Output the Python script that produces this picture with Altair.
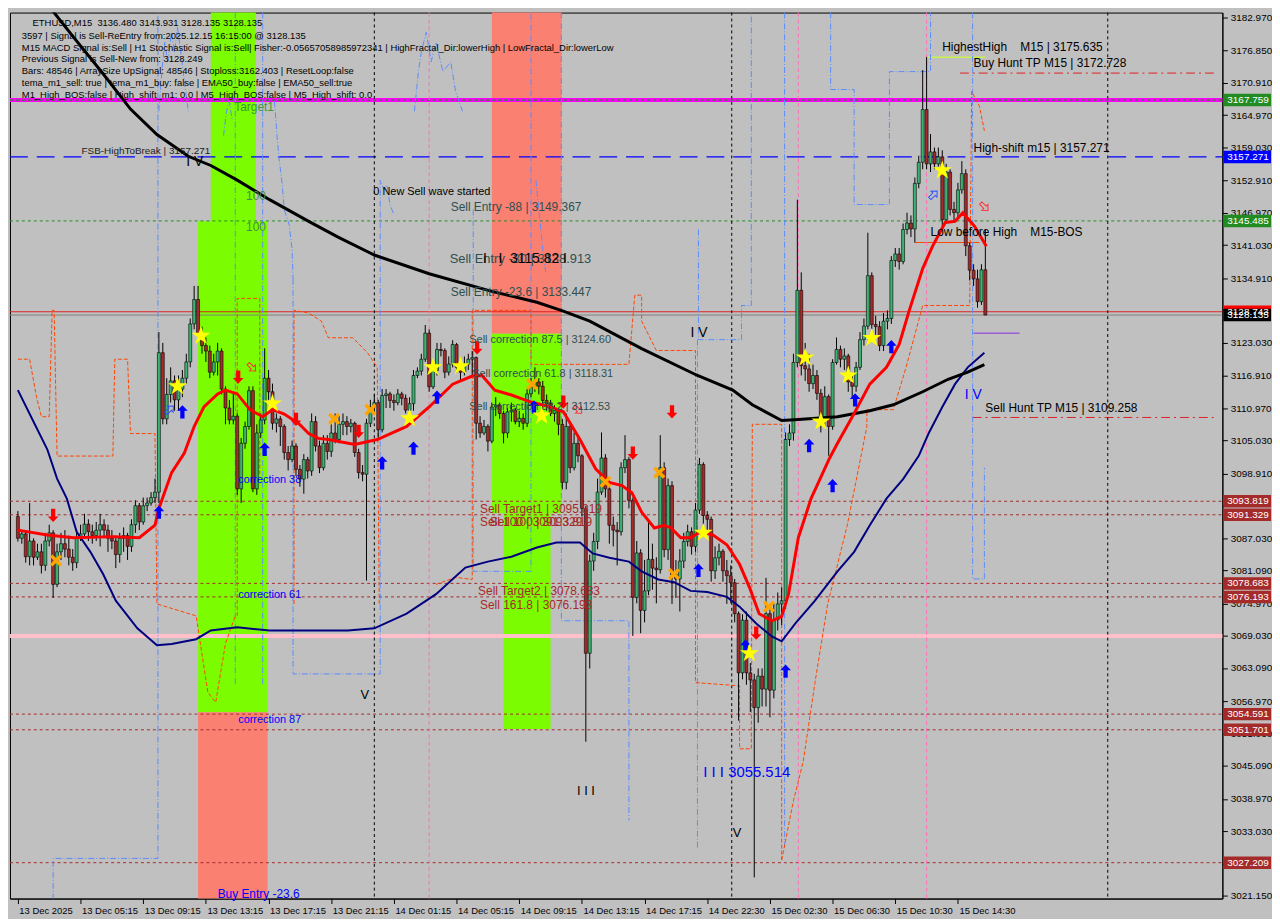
import altair as alt
import pandas as pd

W, H = 1222, 893
XD = [-0.75, 306.25]
YD = [3020.6, 3183.88]
xsc = alt.Scale(domain=XD, nice=False, zero=False)
ysc = alt.Scale(domain=YD, nice=False, zero=False)
FONT = "Liberation Sans"
NB = "\u00a0"

# ---------------- candles (M15) ----------------
open0 = 3091.0
close = [
3087.0,3087.8,3083.6,3086.5,3083.5,3084.5,3082.0,3086.5,3088.0,3078.5,
3084.5,3086.0,3085.0,3083.5,3082.5,3087.0,3087.8,3089.6,3088.2,3087.5,
3088.5,3089.5,3088.5,3087.0,3086.5,3084.0,3087.0,3087.5,3085.5,3089.5,
3093.0,3090.0,3093.0,3093.5,3094.5,3095.5,3121.2,3109.0,3113.5,3116.0,
3112.5,3114.5,3116.5,3119.5,3126.5,3131.0,3124.5,3122.5,3121.5,3117.6,
3119.5,3121.5,3114.5,3111.0,3108.8,3109.5,3096.1,3104.5,3107.6,3114.2,
3096.1,3106.4,3108.8,3116.5,3114.0,3108.2,3109.0,3107.6,3102.8,3101.5,
3104.0,3099.7,3097.9,3101.5,3099.4,3108.5,3104.0,3100.0,3104.5,3103.0,
3106.4,3105.2,3108.0,3108.5,3107.6,3108.2,3102.8,3099.1,3098.8,3108.2,
3111.2,3112.0,3107.0,3113.3,3113.6,3112.4,3112.0,3113.6,3112.8,3110.6,
3111.8,3117.0,3117.8,3120.0,3124.8,3114.9,3117.9,3121.8,3121.6,3117.6,
3119.1,3122.7,3118.5,3117.6,3119.1,3120.0,3120.3,3108.2,3106.4,3107.6,
3104.9,3111.2,3111.5,3110.0,3106.4,3110.3,3110.6,3108.5,3109.1,3108.2,
3113.6,3114.9,3115.8,3115.0,3112.4,3111.8,3110.0,3110.6,3108.0,3097.3,
3107.6,3100.0,3104.5,3102.2,3092.5,3065.8,3082.8,3086.4,3095.5,3101.8,
3096.1,3089.4,3088.5,3088.2,3100.0,3101.5,3094.0,3076.1,3084.3,3073.7,
3077.3,3083.1,3081.5,3081.2,3100.0,3084.9,3096.7,3080.3,3079.5,3082.8,
3086.4,3088.2,3085.5,3092.2,3100.6,3091.2,3090.5,3081.0,3083.4,3084.6,
3081.0,3080.1,3078.8,3073.1,3062.2,3071.9,3062.2,3060.9,3055.8,3061.6,
3059.2,3073.1,3059.0,3072.0,3074.9,3075.5,3105.2,3106.4,3119.4,3132.7,
3118.8,3118.2,3115.5,3117.0,3113.7,3108.8,3113.1,3107.6,3119.4,3121.8,
3120.0,3120.6,3115.8,3115.0,3118.5,3123.6,3126.1,3135.4,3126.4,3126.0,
3122.5,3127.0,3127.5,3138.2,3139.4,3138.0,3143.9,3145.1,3144.0,3152.4,
3156.3,3166.0,3156.0,3158.2,3156.0,3157.3,3145.7,3154.5,3147.6,3147.0,
3151.2,3154.2,3140.9,3136.4,3134.8,3130.6,3136.48,3128.135]
high = [
3092.0,3088.3,3088.5,3093.5,3087.0,3086.0,3086.0,3088.0,3089.5,3088.5,
3086.0,3088.0,3088.5,3087.5,3085.0,3088.5,3089.5,3091.5,3090.5,3089.5,
3090.0,3091.5,3090.5,3089.5,3088.5,3087.5,3088.0,3089.0,3088.0,3090.5,
3094.0,3093.5,3094.5,3094.5,3095.5,3098.0,3125.0,3123.0,3116.5,3118.5,
3117.0,3117.0,3118.0,3121.0,3127.5,3133.5,3133.5,3126.0,3124.0,3122.5,
3121.0,3123.0,3122.0,3115.0,3112.5,3114.0,3110.0,3105.5,3108.5,3115.0,
3115.0,3108.0,3110.0,3122.0,3118.0,3115.5,3110.0,3109.5,3108.0,3104.0,
3105.0,3104.5,3100.5,3102.5,3102.0,3110.0,3109.5,3105.0,3106.0,3106.0,
3108.0,3110.0,3109.5,3110.0,3109.5,3109.0,3108.5,3103.5,3100.5,3109.0,
3112.5,3113.5,3112.5,3114.5,3114.5,3114.0,3113.5,3114.5,3114.0,3113.5,
3113.0,3118.0,3118.5,3121.0,3126.3,3125.5,3119.0,3123.0,3123.0,3122.0,
3120.5,3123.5,3123.0,3119.0,3120.5,3121.0,3121.5,3120.5,3109.5,3108.8,
3108.0,3112.0,3113.0,3112.0,3110.5,3111.0,3112.0,3111.0,3110.5,3110.0,
3114.5,3116.5,3118.5,3116.5,3116.0,3113.5,3112.5,3111.5,3111.0,3109.0,
3110.0,3108.0,3106.5,3105.5,3102.5,3093.0,3084.0,3088.0,3098.0,3106.5,
3102.5,3097.0,3091.0,3090.0,3101.0,3106.0,3102.0,3094.5,3086.5,3085.0,
3083.0,3090.0,3086.0,3083.5,3106.0,3101.0,3098.0,3097.5,3083.0,3085.0,
3088.0,3089.5,3089.0,3093.5,3101.8,3101.0,3092.0,3091.0,3085.5,3086.0,
3085.0,3083.0,3082.0,3079.5,3073.5,3073.0,3073.5,3064.0,3062.0,3063.0,
3063.0,3079.7,3074.0,3075.0,3077.0,3078.0,3106.5,3108.0,3121.0,3149.4,
3136.0,3123.0,3121.0,3119.0,3118.0,3114.5,3115.0,3113.5,3120.0,3124.0,
3122.5,3122.0,3121.0,3117.0,3119.5,3125.0,3127.5,3143.3,3136.0,3128.0,
3127.0,3128.5,3129.0,3139.0,3140.5,3140.5,3145.0,3147.0,3146.5,3153.5,
3157.5,3173.3,3175.7,3161.5,3159.0,3159.0,3158.5,3156.0,3155.0,3149.0,
3152.5,3156.5,3155.0,3141.5,3137.5,3136.5,3137.5,3143.931]
low = [
3086.4,3086.0,3082.5,3082.0,3082.0,3083.0,3080.5,3081.0,3085.5,3076.0,
3078.0,3083.0,3083.5,3082.0,3081.0,3081.5,3086.5,3087.0,3086.5,3086.0,
3086.5,3085.5,3087.0,3084.5,3085.0,3081.5,3082.5,3084.5,3083.0,3084.5,
3088.0,3088.5,3089.5,3092.0,3093.0,3093.5,3093.5,3108.0,3108.0,3112.0,
3110.5,3110.5,3113.0,3115.5,3118.5,3125.5,3123.5,3121.0,3119.5,3116.5,
3117.0,3117.0,3113.5,3108.0,3108.0,3108.0,3095.0,3093.5,3103.5,3107.0,
3095.5,3095.0,3105.5,3108.0,3112.5,3107.0,3106.5,3104.0,3101.5,3099.5,
3101.0,3098.5,3096.5,3095.2,3098.0,3098.5,3103.0,3099.0,3099.5,3101.5,
3102.0,3104.5,3104.5,3106.0,3106.0,3106.5,3102.0,3098.0,3097.5,3079.2,
3107.5,3110.0,3105.5,3106.5,3111.0,3111.0,3110.5,3111.5,3111.5,3110.0,
3108.0,3110.5,3116.5,3117.0,3119.5,3114.0,3114.5,3117.0,3120.5,3116.5,
3117.0,3118.5,3117.5,3116.0,3117.0,3118.0,3117.0,3105.2,3105.5,3106.0,
3103.0,3104.5,3109.5,3109.0,3104.5,3105.5,3108.5,3108.0,3107.5,3107.0,
3107.5,3113.0,3114.0,3113.5,3111.0,3110.5,3109.5,3108.5,3106.0,3096.0,
3096.0,3099.0,3099.5,3101.0,3091.0,3049.5,3063.0,3081.0,3085.0,3095.0,
3094.5,3086.0,3085.5,3082.0,3087.5,3099.0,3092.5,3069.0,3075.0,3069.5,
3071.5,3076.5,3077.5,3075.0,3080.5,3083.5,3083.0,3074.9,3076.0,3073.5,
3081.5,3085.5,3084.0,3084.5,3091.5,3089.5,3088.5,3079.0,3079.5,3082.0,
3079.0,3074.9,3075.0,3071.5,3053.4,3061.0,3060.0,3055.0,3024.5,3053.0,
3056.0,3056.0,3054.0,3057.5,3070.0,3071.0,3074.0,3104.0,3105.0,3118.5,
3117.0,3116.0,3114.0,3114.5,3112.5,3106.5,3107.5,3102.2,3107.0,3119.0,
3118.5,3118.0,3114.0,3113.0,3114.0,3118.0,3122.5,3125.5,3125.5,3124.5,
3121.5,3121.5,3125.5,3126.5,3137.0,3136.5,3137.5,3143.0,3142.5,3141.5,
3151.5,3155.0,3155.0,3154.5,3155.0,3155.5,3144.5,3145.0,3146.5,3145.5,
3146.0,3150.5,3139.0,3134.5,3133.5,3129.5,3130.0,3128.135]

# ---------------- indicator lines (bar, price) ----------------
ma_black_bar = [8.0,14.25,21.75,28.75,35.5,43.5,49.25,56,64.25,74.25,81.75,91,105,121,132.5,139.25,146,159.25,173.5,182.5,187.5,195,199.25,209.25,217.5,223.5,231,237.5,242.5,246.75]
ma_black_val = [3185.0,3179.3,3172.6,3166.1,3161.4,3157.4,3155.7,3153.0,3149.4,3145.4,3142.5,3139.2,3135.75,3132.5,3130.5,3128.85,3127.0,3121.95,3117.0,3114.3,3111.6,3108.7,3108.9,3109.4,3110.5,3111.6,3114.0,3116.3,3117.6,3119.0]
ma_red_bar = [0,7.5,14.25,24.25,31,35,36,39.25,42.5,45,47.5,51,53,56,59.25,62.5,65,68,71.75,74.25,76.75,79.25,86,91.75,99.25,105,111,116,118.5,121.75,126,131,136,139.25,143.5,147.5,151,154.25,156.75,159.25,162.5,165,166.75,169.25,171.75,174.25,177.5,181,184.25,186.75,189.25,192.5,195,196.75,199.25,202.5,207.25,209.25,213.5,217.5,221.75,225,227.5,231,233.5,236.75,239.25,241.25,244.25,247.25]
ma_red_val = [3088.5,3087.6,3087.1,3087.3,3087.1,3089.4,3092.5,3099.1,3102.7,3107.6,3111.2,3113.6,3114.3,3113.6,3110.7,3109.4,3110.7,3109.9,3108.1,3106.3,3105.4,3105.2,3104.3,3105.2,3107.6,3111.2,3115.4,3116.9,3117.0,3114.3,3113.4,3112.1,3111.2,3110.3,3105.2,3099.8,3097.3,3096.7,3095.4,3091.8,3088.9,3089.4,3088.9,3087.1,3087.1,3088.2,3087.6,3085.8,3082.2,3078.0,3073.1,3071.8,3072.6,3076.7,3087.1,3094.3,3101.8,3104.5,3110.0,3115.4,3118.5,3122.7,3128.8,3136.7,3140.8,3145.2,3145.4,3147.0,3144.5,3140.8]
ma_navy_bar = [0,4.25,7.5,10,12.5,15,18.5,21.75,25,30.5,35.5,39.25,45.5,49.25,56,64.25,74.25,84.25,91,99.25,106.75,114.25,120,126,132.5,137.5,143.5,146.75,151,156,159.25,163.5,167.5,171.75,176,181,184.25,188.5,192.5,195,198.5,203.5,209.25,213.5,217.5,221.75,226,230,232.5,236,239.25,242.5,246.75]
ma_navy_val = [3114.3,3108.1,3103.4,3098.0,3094.3,3088.2,3084.5,3080.4,3075.5,3070.4,3067.3,3067.5,3068.4,3070.0,3070.6,3070.0,3070.0,3070.0,3070.4,3073.1,3076.7,3081.6,3082.7,3083.6,3085.3,3086.2,3086.2,3084.2,3083.4,3082.7,3080.9,3079.4,3078.9,3077.3,3077.1,3076.2,3074.4,3071.3,3068.9,3068.0,3071.3,3075.5,3080.9,3084.5,3089.4,3094.3,3097.9,3102.2,3106.3,3111.2,3115.4,3118.5,3121.2]

# orange-red dashed channel (segments)
orange_seg = [
 [(0,3120.0),(3,3120.0),(4.75,3113.05),(6,3109.4),(8,3109.4),(8.75,3129.0),(9.25,3129.0),(10,3102.15),(24.25,3102.15),(24.75,3120.0),(28,3120.0),(28.75,3106.3),(35,3106.3),(35.5,3074.9),(45.5,3072.7),(48.5,3058.6),(50.5,3056.75),(53,3067.6),(55.5,3072.7)],
 [(56,3072.7),(56,3131.2),(61.75,3131.2),(61.75,3098.5)],
 [(70.5,3074.9),(70.5,3129.0),(74.25,3128.5),(77.5,3127.0),(79.25,3123.95),(85.5,3123.95),(89.25,3121.2),(91.75,3118.5),(92.25,3074.9)],
 [(106.75,3078.5),(111.75,3079.8),(116,3079.4),(116,3129.0),(131,3129.0),(131,3119.05),(156,3119.05),(157.5,3131.8),(159.25,3131.8),(159.25,3127.0),(163,3121.6),(173,3121.6),(173,3060.4),(184.25,3059.8),(184.25,3048.2),(187.25,3048.2),(187.5,3108.0),(195,3108.0),(195,3027.7)],
 [(195,3027.7),(198,3038.6),(200.5,3045.85),(203.5,3060.4),(206.75,3074.9),(211.75,3089.4),(216.75,3107.6),(216.75,3110.7),(223.5,3110.7),(226.75,3118.5),(231,3129.9),(243,3129.9),(243.5,3169.35),(245.5,3166.6),(246.75,3162.1)],
]
# light-blue dash-dot channel (segments)
blue_seg = [
 [(9,3020.4),(9,3028.0),(35.75,3028.0),(35.75,3183.9)],
 [(36,3165.7),(36.75,3173.0),(37.5,3178.4),(38.25,3174.8),(39.25,3180.25),(40,3176.6),(40.75,3181.2),(41.75,3175.7),(42.5,3171.2),(43.5,3165.7)],
 [(55.5,3183.9),(55.5,3060.0)],
 [(52.5,3161.2),(53.25,3165.7),(54,3167.5),(54.75,3163.9)],
 [(62.5,3183.9),(62.5,3060.0)],
 [(65.5,3167.5),(66.25,3160.3),(66.75,3156.6),(67.5,3152.1),(68,3147.6),(69.25,3144.8),(70,3140.3),(70.25,3134.8)],
 [(70.25,3134.8),(70.25,3062.0),(92.5,3062.0),(92.5,3153.0),(93.5,3151.2),(94.25,3152.1),(95,3148.5),(96,3146.6)],
 [(101.25,3165.7),(102.25,3173.0),(103,3176.6),(104.25,3180.25),(105.5,3174.8),(106.75,3178.4),(108.5,3173.0),(110.5,3174.8),(111.75,3169.35),(113.5,3165.7)],
 [(116.25,3147.6),(116.25,3080.9),(131,3080.9),(131,3183.9)],
 [(132.25,3153.0),(133,3147.6),(133.75,3142.1),(134.25,3138.5),(134.75,3136.1)],
 [(138.75,3183.9),(138.75,3071.8),(156,3071.8),(156,3035.0)],
 [(173.75,3143.9),(173.75,3123.6),(184.75,3123.6),(184.75,3129.9),(187.25,3129.9),(187.25,3183.9)],
 [(173.5,3123.6),(173.5,3030.0)],
 [(195.75,3183.9),(195.75,3030.0)],
 [(207.5,3183.9),(207.5,3169.7),(213.5,3169.7),(213.5,3148.5),(222.5,3148.5),(222.5,3173.0),(233,3173.0),(233,3183.9)],
 [(243.75,3183.9),(243.75,3079.5),(246.75,3079.5),(246.75,3100.0)],
]

# ---------------- levels ----------------
lvl_darkred = [3093.819, 3091.329, 3078.683, 3076.193, 3054.591, 3051.701, 3027.209]
lvl_magenta = 3167.759
lvl_fsb = 3157.271
lvl_green = 3145.485
lvl_red = 3128.743
lvl_last = 3128.135
lvl_pink = 3069.0
buy_hunt_tp = 3172.728
sell_hunt_tp = 3109.258
highest_high = 3175.635
low_before_high = 3141.5
base_line = 3124.8

# zones: (bar_from, bar_to, price_lo, price_hi, colour)
zones = [
 (49.25, 60.75, 3054.93, 3183.9, "#7CFC00"),
 (46.0, 63.75, 3054.93, 3145.4, "#7CFC00"),
 (46.0, 63.75, 3020.6, 3054.93, "#FA8072"),
 (121.0, 138.75, 3124.67, 3183.9, "#FA8072"),
 (121.0, 138.75, 3091.62, 3124.67, "#7CFC00"),
 (124.0, 136.0, 3051.84, 3091.62, "#7CFC00"),
]
sep_black = [91.0, 182.25, 278.25]
sep_pink = [105.0, 199.25, 232.0]

# markers
stars = [(46.75,3124.3),(40.75,3115.0),(65,3111.8),(106,3118.5),(113,3118.7),(100,3109.1),(133.75,3109.6),(175,3088.0),(186.75,3065.8),(201,3120.3),(205,3108.5),(212,3117.0),(218,3123.9),(236,3154.8)]
xmarks = [(9.75,3082.9),(80.75,3109.0),(90,3110.7),(131.25,3115.4),(150,3097.4),(163.75,3099.1),(167.5,3080.4),(191.75,3074.4)]
down_arrows = [(9,3091.2),(56.25,3116.7),(71,3108.9),(87,3106.7),(117.25,3122.1),(139.25,3112.1),(157,3102.7),(167,3110.3),(188.5,3069.5)]
up_arrows = [(36,3091.8),(42,3110.3),(63,3103.4),(93,3100.9),(101,3103.6),(107,3113.0),(131.75,3111.2),(173.75,3081.1),(185.75,3067.1),(196,3062.5),(202,3104.1),(208,3096.7),(213.75,3112.5),(223,3122.3)]
hollow = [(38.75,3110.7,45,"#3050FF"),(59.75,3118.5,135,"#FF3030"),(143,3110.7,135,"#FF3030"),(233.75,3150.3,45,"#3050FF"),(246.75,3148.1,135,"#FF3030")]

# annotations: (bar, price, text, colour, size)
notes = [
 (55.25,3166.4,"Target1","#3A9A3A",12),
 (58.25,3150.1,"100","#4A8A4A",12),
 (58.25,3144.3,"100","#4A8A4A",12),
 (16.25,3158.45,"FSB-HighToBreak | 3157.271","#202020",10),
 (90.75,3150.8,"0 New Sell wave started","#000000",11),
 (110.5,3148.1,"Sell Entry -88 | 3149.367","#2F4F4F",12),
 (110.25,3138.5,"Sell Entry -30 | 3138.913","#2F4F4F",13),
 (118.75,3138.5,"I" + NB*3 + "I" + NB*2 + "3115.82 I","#000000",14),
 (110.5,3132.3,"Sell Entry -23.6 | 3133.447","#2F4F4F",12),
 (115.25,3123.6,"Sell correction 87.5 | 3124.60","#2F4F4F",11),
 (116.0,3117.2,"Sell correction 61.8 | 3118.31","#2F4F4F",11),
 (115.25,3111.2,"Sell correction 38.2 | 3112.53","#2F4F4F",11),
 (118.0,3092.3,"Sell Target1 | 3095.819","#A52A2A",12),
 (118.0,3090.0,"Sell 100 | 3091.329","#A52A2A",12),
 (120.5,3090.0,"Sell 100 | 3093.819","#A52A2A",12),
 (117.5,3077.3,"Sell Target2 | 3078.683","#A52A2A",12),
 (118.0,3074.7,"Sell 161.8 | 3076.193","#A52A2A",12),
 (56.25,3097.8,"correction 38","#0000FF",11),
 (56.25,3076.5,"correction 61","#0000FF",11),
 (56.25,3053.5,"correction 87","#0000FF",11),
 (51.0,3021.4,"Buy Entry -23.6","#0000FF",12),
 (87.5,3058.2,"V","#000000",13),
 (142.75,3040.4,"I I I","#000000",13),
 (175.0,3044.0,"I I I 3055.514","#0000FF",15),
 (182.5,3032.6,"V","#000000",13),
 (171.75,3124.9,"I V","#000000",14),
 (241.75,3113.4,"I V","#0000FF",14),
 (43.0,3156.3,"I V","#000000",14),
 (247.0,3111.0,"Sell Hunt TP M15 | 3109.258","#000000",12),
 (236.0,3177.5,"HighestHigh" + NB*4 + "M15 | 3175.635","#000000",12),
 (244.0,3174.6,"Buy Hunt TP M15 | 3172.728","#000000",12),
 (244.0,3159.0,"High-shift m15 | 3157.271","#000000",12),
 (233.0,3143.4,"Low before High" + NB*4 + "M15-BOS","#000000",12),
]
info_lines = [
 (3.75,3181.9,"ETHUSD,M15" + NB*2 + "3136.480 3143.931 3128.135 3128.135"),
 (1.0,3179.6,"3597 | Signal is Sell-ReEntry from:2025.12.15 16:15:00 @ 3128.135"),
 (1.0,3177.4,"M15 MACD Signal is:Sell | H1 Stochastic Signal is:Sell| Fisher:-0.05657058985972341 | HighFractal_Dir:lowerHigh | LowFractal_Dir:lowerLow"),
 (1.0,3175.25,"Previous Signal is Sell-New from: 3128.249"),
 (1.0,3173.1,"Bars: 48546 | ArraySize UpSignal: 48546 | Stoploss:3162.403 | ResetLoop:false"),
 (1.0,3170.9,"tema_m1_sell: true | tema_m1_buy: false | EMA50_buy:false | EMA50_sell:true"),
 (1.0,3168.7,"M1_High_BOS:false | High_shift_m1: 0.0 | M5_High_BOS:false | M5_High_shift: 0.0"),
]
price_boxes = [
 (3167.759,"#228B22"),(3157.271,"#0000FF"),(3145.485,"#228B22"),(3128.743,"#FF0000"),(3128.135,"#000000"),
 (3093.819,"#A52A2A"),(3091.329,"#A52A2A"),(3078.683,"#A52A2A"),(3076.193,"#A52A2A"),
 (3054.591,"#A52A2A"),(3051.701,"#A52A2A"),(3027.209,"#A52A2A"),
]
y_ticks = [3182.97,3176.85,3170.91,3164.97,3159.03,3152.91,3146.97,3141.03,3134.91,3128.97,3123.03,3116.91,3110.97,3105.03,3098.91,3092.97,3087.03,3081.09,3074.97,3069.03,3063.09,3056.97,3051.03,3045.09,3038.97,3033.03,3027.09,3021.15]
y_hidden = [3128.97, 3092.97, 3027.09]
x_labels = ["13 Dec 2025","13 Dec 05:15","13 Dec 09:15","13 Dec 13:15","13 Dec 17:15","13 Dec 21:15","14 Dec 01:15","14 Dec 05:15","14 Dec 09:15","14 Dec 13:15","14 Dec 17:15","14 Dec 22:30","15 Dec 02:30","15 Dec 06:30","15 Dec 10:30","15 Dec 14:30"]

# ---------------- build tables ----------------
rows = []
o = open0
for i, (c, h, l) in enumerate(zip(close, high, low)):
    rows.append(dict(bar=i, o=o, h=h, l=l, c=c, col="#3CB371" if c >= o else "#A52A2A"))
    o = c
cdf = pd.DataFrame(rows)

hide_expr = " || ".join(f"abs(datum.value-{v})<0.01" for v in y_hidden)
xaxis = alt.Axis(
    values=list(range(0, 241, 16)),
    labelExpr="[" + ",".join("'" + s + "'" for s in x_labels) + "][round(datum.value/16)]",
    orient="bottom", labelAlign="left", labelFont=FONT, labelFontSize=9.5,
    labelColor="black", tickColor="black", domainColor="black", tickSize=5,
    labelPadding=2, labelOffset=1, grid=False, labelOverlap=False, labelFlush=False, title=None)
yaxis = alt.Axis(
    values=y_ticks, labelExpr=f"({hide_expr}) ? '' : format(datum.value, '.3f')",
    orient="right", labelFont=FONT, labelFontSize=10,
    labelColor="black", tickColor="black", domainColor="black", tickSize=5,
    labelPadding=3, grid=False, labelOverlap=False, labelFlush=False, title=None)

def X(f="bar"):
    return alt.X(f"{f}:Q", scale=xsc, axis=xaxis)

def Y(f="price"):
    return alt.Y(f"{f}:Q", scale=ysc, axis=yaxis)

layers = []

zdf = pd.DataFrame(zones, columns=["b1", "b2", "p1", "p2", "col"])
layers.append(alt.Chart(zdf).mark_rect().encode(
    x=X("b1"), x2="b2", y=Y("p1"), y2="p2", color=alt.Color("col:N", scale=None)))

def hrule(prices, color, width=1.0, dash=None):
    kw = dict(color=color, strokeWidth=width)
    if dash:
        kw["strokeDash"] = dash
    d = pd.DataFrame({"price": prices})
    return alt.Chart(d).mark_rule(**kw).encode(y=Y(), x=alt.value(0), x2=alt.value(W))

def hseg(b1, b2, price, color, width=1.0, dash=None):
    kw = dict(color=color, strokeWidth=width)
    if dash:
        kw["strokeDash"] = dash
    d = pd.DataFrame({"b1": [b1], "b2": [b2], "price": [price]})
    return alt.Chart(d).mark_rule(**kw).encode(x=X("b1"), x2="b2", y=Y())

def vrule(bars, color, width=1.0, dash=None):
    kw = dict(color=color, strokeWidth=width)
    if dash:
        kw["strokeDash"] = dash
    d = pd.DataFrame({"bar": bars})
    return alt.Chart(d).mark_rule(**kw).encode(x=X(), y=alt.value(0), y2=alt.value(H))

layers += [
    hrule([lvl_pink], "#FFC0CB", 4),
    hrule([lvl_magenta], "#FF00FF", 4),
    hrule([lvl_magenta], "#228B22", 1.2, [3, 3]),
    hrule([lvl_fsb], "#0000FF", 1.3, [18, 9]),
    hrule([lvl_green], "#228B22", 1, [3, 3]),
    hrule([lvl_red], "#E02020", 1),
    hrule([lvl_last], "#808080", 1),
    hrule(lvl_darkred, "#A52A2A", 1, [3, 3]),
    hseg(240.5, 306.25, buy_hunt_tp, "#E02020", 1, [9, 4, 2, 4]),
    hseg(243.75, 306.25, sell_hunt_tp, "#E02020", 1, [9, 4, 2, 4]),
    hseg(232.0, 247.0, highest_high, "#C8F050", 1.5),
    hseg(229.0, 245.5, low_before_high, "#FF4500", 1),
    hseg(244.0, 255.75, base_line, "#8A2BE2", 1),
    vrule(sep_black, "#000000", 1, [3, 3]),
    vrule(sep_pink, "#FF6EB4", 1, [4, 3]),
]

def seg_df(segs):
    r = []
    for k, s in enumerate(segs):
        for j, (b, p) in enumerate(s):
            r.append(dict(seg=k, ord=j, bar=b, price=p))
    return pd.DataFrame(r)

layers.append(alt.Chart(seg_df(blue_seg)).mark_line(
    color="#5A8CFF", strokeWidth=1, strokeDash=[6, 2, 1, 2], clip=True).encode(
    x=X(), y=Y(), detail="seg:N", order="ord:Q"))
layers.append(alt.Chart(seg_df(orange_seg)).mark_line(
    color="#FF4500", strokeWidth=1, strokeDash=[4, 2], clip=True).encode(
    x=X(), y=Y(), detail="seg:N", order="ord:Q"))

# candles
layers.append(alt.Chart(cdf).mark_rule(color="black", strokeWidth=1).encode(
    x=X(), y=Y("l"), y2="h:Q"))
layers.append(alt.Chart(cdf).mark_bar(size=3, stroke="black", strokeWidth=0.6).encode(
    x=X(), y=Y("o"), y2="c:Q", color=alt.Color("col:N", scale=None)))

def line_df(b, v):
    return pd.DataFrame({"bar": b, "price": v})

layers.append(alt.Chart(line_df(ma_navy_bar, ma_navy_val)).mark_line(
    color="#000080", strokeWidth=2, clip=True).encode(x=X(), y=Y()))
layers.append(alt.Chart(line_df(ma_black_bar, ma_black_val)).mark_line(
    color="#000000", strokeWidth=3, clip=True).encode(x=X(), y=Y()))
layers.append(alt.Chart(line_df(ma_red_bar, ma_red_val)).mark_line(
    color="#FF0000", strokeWidth=3, clip=True).encode(x=X(), y=Y()))

STAR = "M0,-1L0.2245,-0.309L0.951,-0.309L0.363,0.118L0.588,0.809L0,0.382L-0.588,0.809L-0.363,0.118L-0.951,-0.309L-0.2245,-0.309Z"
ARROW = "M0,-1L0.8,-0.15L0.32,-0.15L0.32,1L-0.32,1L-0.32,-0.15L-0.8,-0.15Z"
XSH = "M-1,-0.6L-0.6,-1L0,-0.4L0.6,-1L1,-0.6L0.4,0L1,0.6L0.6,1L0,0.4L-0.6,1L-1,0.6L-0.4,0Z"

def pts(lst):
    return pd.DataFrame(lst, columns=["bar", "price"])

layers.append(alt.Chart(pts(xmarks)).mark_point(shape=XSH, filled=True, color="#FFA500", size=150, opacity=1).encode(x=X(), y=Y()))
layers.append(alt.Chart(pts(down_arrows)).mark_point(shape=ARROW, filled=True, color="#FF0000", size=180, angle=180, opacity=1).encode(x=X(), y=Y()))
layers.append(alt.Chart(pts(up_arrows)).mark_point(shape=ARROW, filled=True, color="#0000FF", size=180, opacity=1).encode(x=X(), y=Y()))
hdf = pd.DataFrame(hollow, columns=["bar", "price", "ang", "col"])
layers.append(alt.Chart(hdf).mark_point(shape=ARROW, filled=False, size=110, strokeWidth=1, opacity=1).encode(
    x=X(), y=Y(), angle=alt.Angle("ang:Q", scale=None), color=alt.Color("col:N", scale=None)))
layers.append(alt.Chart(pts(stars)).mark_point(shape=STAR, filled=True, color="#FFFF00", size=400, opacity=1).encode(x=X(), y=Y()))

ndf = pd.DataFrame(notes, columns=["bar", "price", "txt", "col", "fs"])
layers.append(alt.Chart(ndf).mark_text(align="left", baseline="middle", font=FONT).encode(
    x=X(), y=Y(), text="txt:N", color=alt.Color("col:N", scale=None), size=alt.Size("fs:Q", scale=None)))
idf = pd.DataFrame(info_lines, columns=["bar", "price", "txt"])
layers.append(alt.Chart(idf).mark_text(align="left", baseline="middle", font=FONT, fontSize=9.5, color="black").encode(
    x=X(), y=Y(), text="txt:N"))

bdf = pd.DataFrame(price_boxes, columns=["price", "col"])
bdf["lo"] = bdf["price"] - 1.15
bdf["hi"] = bdf["price"] + 1.15
bdf["txt"] = bdf["price"].map(lambda v: f"{v:.3f}")
layers.append(alt.Chart(bdf).mark_rect().encode(
    y=Y("lo"), y2="hi:Q", x=alt.value(W + 1), x2=alt.value(W + 49), color=alt.Color("col:N", scale=None)))
layers.append(alt.Chart(bdf).mark_text(align="left", baseline="middle", font=FONT, fontSize=10, color="white").encode(
    y=Y(), x=alt.value(W + 5), text="txt:N"))

chart = alt.layer(*layers).properties(
    width=W, height=H, background="#C0C0C0", padding=0
).configure_view(stroke="black", strokeWidth=1)

chart.save("out.html", embed_options={"renderer": "svg", "actions": False})
